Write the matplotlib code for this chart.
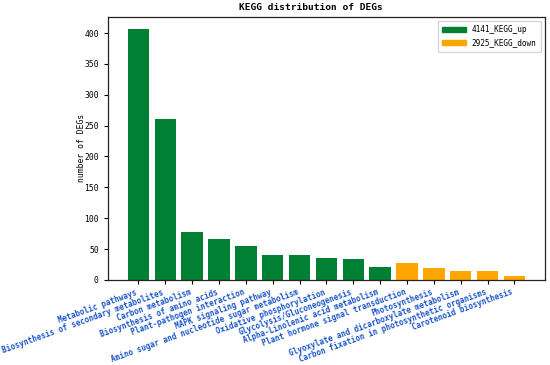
import matplotlib
matplotlib.use("Agg")
import matplotlib.pyplot as plt
import matplotlib.patches as mpatches

categories = [
    "Metabolic pathways",
    "Biosynthesis of secondary metabolites",
    "Carbon metabolism",
    "Biosynthesis of amino acids",
    "Plant-pathogen interaction",
    "MAPK signaling pathway",
    "Amino sugar and nucleotide sugar metabolism",
    "Oxidative phosphorylation",
    "Glycolysis/Gluconeogenesis",
    "Alpha-Linolenic acid metabolism",
    "Plant hormone signal transduction",
    "Photosynthesis",
    "Glyoxylate and dicarboxylate metabolism",
    "Carbon fixation in photosynthetic organisms",
    "Carotenoid biosynthesis",
]
values = [406, 260, 78, 66, 55, 40, 40, 35, 34, 21, 27, 19, 15, 15, 7]
groups = ["up"] * 10 + ["down"] * 5
legend_labels = {"up": "4141_KEGG_up", "down": "2925_KEGG_down"}
colors = {"up": "#008033", "down": "#FFA500"}

plt.rcParams['font.family'] = ['DejaVu Sans Mono']

fig = plt.figure(figsize=(5.5, 3.65), dpi=100)
ax = fig.add_axes([0.196, 0.233, 0.795, 0.721])

x = list(range(len(categories)))
ax.bar(x, values, width=0.8, color=[colors[g] for g in groups])

ax.set_xticks(x)
ax.set_xticklabels(categories, rotation=20, ha='right', fontsize=5.5,
                   color='#1a55c8', fontweight='bold')
ax.tick_params(axis='y', labelsize=5.8, length=3, width=0.8)
ax.tick_params(axis='x', length=3, width=0.8, pad=2.5)
ax.set_ylabel("number of DEGs", fontsize=5.8, labelpad=-1)
ax.set_title("KEGG distribution of DEGs", fontsize=6.8, pad=5, fontweight='bold', x=0.465)
for s in ax.spines.values():
    s.set_color('#2a2020')
    s.set_linewidth(0.9)

handles = [mpatches.Patch(color=colors[k], label=legend_labels[k]) for k in ["up", "down"]]
ax.legend(handles=handles, loc='upper right', fontsize=5.6, handlelength=3.0,
          borderpad=0.6, labelspacing=0.5)

fig.savefig("out.png", dpi=100)
